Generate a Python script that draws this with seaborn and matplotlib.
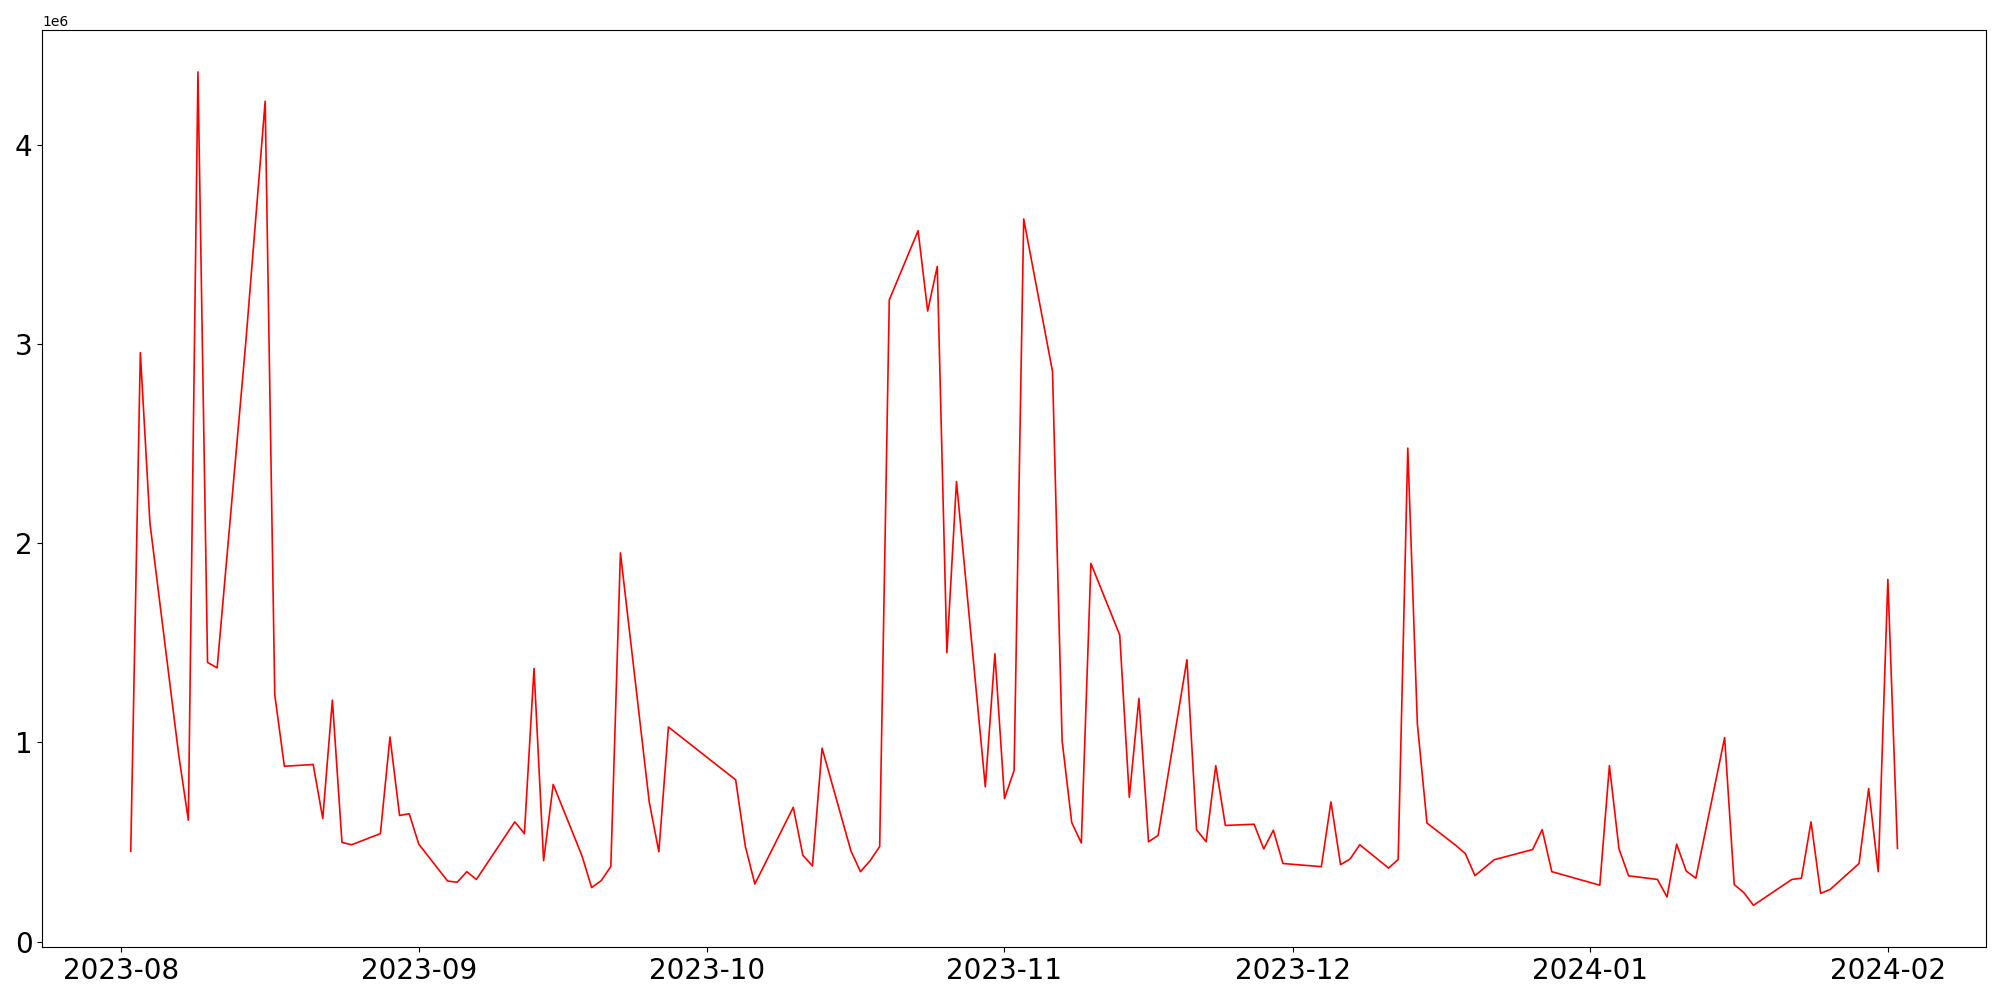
import matplotlib
matplotlib.use("Agg")
import matplotlib.pyplot as plt
import pandas as pd
import seaborn as sns

# Data (values in millions) ---------------------------------------------------
DATES = [
    "2023-08-02", "2023-08-03", "2023-08-04", "2023-08-07", "2023-08-08", "2023-08-09",
    "2023-08-10", "2023-08-11", "2023-08-14", "2023-08-16", "2023-08-17", "2023-08-18",
    "2023-08-21", "2023-08-22", "2023-08-23", "2023-08-24", "2023-08-25", "2023-08-28",
    "2023-08-29", "2023-08-30", "2023-08-31", "2023-09-01", "2023-09-04", "2023-09-05",
    "2023-09-06", "2023-09-07", "2023-09-11", "2023-09-12", "2023-09-13", "2023-09-14",
    "2023-09-15", "2023-09-18", "2023-09-19", "2023-09-20", "2023-09-21", "2023-09-22",
    "2023-09-25", "2023-09-26", "2023-09-27", "2023-10-04", "2023-10-05", "2023-10-06",
    "2023-10-10", "2023-10-11", "2023-10-12", "2023-10-13", "2023-10-16", "2023-10-17",
    "2023-10-18", "2023-10-19", "2023-10-20", "2023-10-23", "2023-10-24", "2023-10-25",
    "2023-10-26", "2023-10-27", "2023-10-30", "2023-10-31", "2023-11-01", "2023-11-02",
    "2023-11-03", "2023-11-06", "2023-11-07", "2023-11-08", "2023-11-09", "2023-11-10",
    "2023-11-13", "2023-11-14", "2023-11-15", "2023-11-16", "2023-11-17", "2023-11-20",
    "2023-11-21", "2023-11-22", "2023-11-23", "2023-11-24", "2023-11-27", "2023-11-28",
    "2023-11-29", "2023-11-30", "2023-12-04", "2023-12-05", "2023-12-06", "2023-12-07",
    "2023-12-08", "2023-12-11", "2023-12-12", "2023-12-13", "2023-12-14", "2023-12-15",
    "2023-12-18", "2023-12-19", "2023-12-20", "2023-12-22", "2023-12-26", "2023-12-27",
    "2023-12-28", "2024-01-02", "2024-01-03", "2024-01-04", "2024-01-05", "2024-01-08",
    "2024-01-09", "2024-01-10", "2024-01-11", "2024-01-12", "2024-01-15", "2024-01-16",
    "2024-01-17", "2024-01-18", "2024-01-22", "2024-01-23", "2024-01-24", "2024-01-25",
    "2024-01-26", "2024-01-29", "2024-01-30", "2024-01-31", "2024-02-01", "2024-02-02",
]
VALUES_M = [
    0.453, 2.956, 2.100, 0.936, 0.609, 4.365,
    1.401, 1.374, 3.018, 4.218, 1.239, 0.880,
    0.889, 0.618, 1.212, 0.498, 0.486, 0.542,
    1.027, 0.633, 0.642, 0.489, 0.304, 0.298,
    0.351, 0.312, 0.601, 0.542, 1.371, 0.406,
    0.789, 0.430, 0.271, 0.306, 0.377, 1.951,
    0.701, 0.451, 1.077, 0.812, 0.480, 0.289,
    0.674, 0.433, 0.380, 0.971, 0.456, 0.351,
    0.406, 0.477, 3.221, 3.568, 3.165, 3.389,
    1.450, 2.309, 0.777, 1.445, 0.718, 0.859,
    3.627, 2.862, 1.009, 0.598, 0.495, 1.898,
    1.539, 0.724, 1.221, 0.501, 0.533, 1.415,
    0.562, 0.501, 0.883, 0.583, 0.589, 0.465,
    0.559, 0.392, 0.376, 0.701, 0.386, 0.415,
    0.486, 0.369, 0.412, 2.477, 1.092, 0.595,
    0.483, 0.441, 0.331, 0.411, 0.462, 0.562,
    0.351, 0.283, 0.883, 0.465, 0.330, 0.312,
    0.224, 0.489, 0.354, 0.318, 1.024, 0.286,
    0.246, 0.182, 0.312, 0.318, 0.601, 0.242,
    0.262, 0.392, 0.768, 0.351, 1.818, 0.468,
]

df = pd.DataFrame({"date": pd.to_datetime(DATES),
                   "value": [v * 1e6 for v in VALUES_M]})

fig, ax = plt.subplots(figsize=(20, 10), dpi=100)
sns.lineplot(data=df, x="date", y="value", color="red", lw=1.2,
             estimator=None, ax=ax)

ax.set_xlabel("")
ax.set_ylabel("")
ax.tick_params(axis="both", labelsize=20)

fig.subplots_adjust(left=0.0212, right=0.9929, bottom=0.053, top=0.9697)
fig.savefig("out.png")
plt.close(fig)
